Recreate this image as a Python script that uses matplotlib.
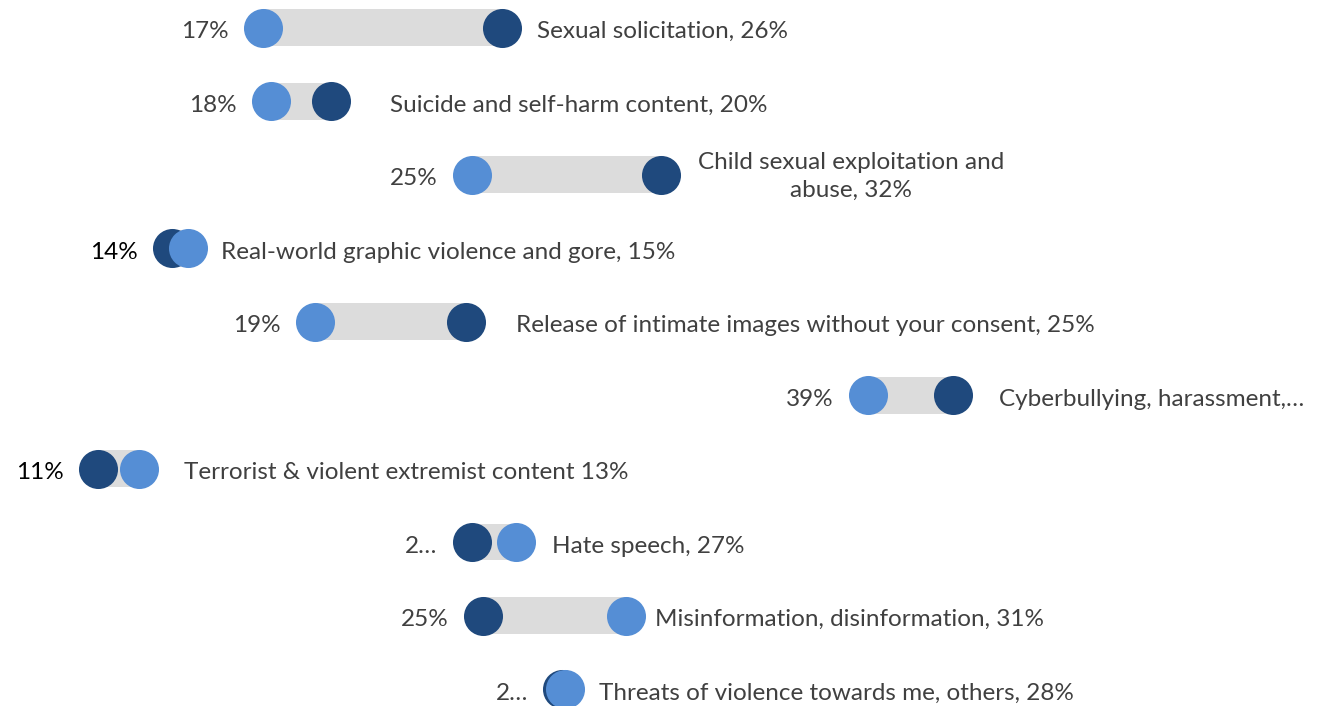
import matplotlib
matplotlib.use("Agg")
import matplotlib.pyplot as plt

# harm categories, top to bottom
categories = [
    "Sexual solicitation",
    "Suicide and self-harm content",
    "Child sexual exploitation and abuse",
    "Real-world graphic violence and gore",
    "Release of intimate images without your consent",
    "Cyberbullying, harassment, abuse",
    "Terrorist & violent extremist content",
    "Hate speech",
    "Misinformation, disinformation",
    "Threats of violence towards me, others",
]
share_a = [17.4, 17.7, 25.0, 14.7, 19.3, 39.4, 12.9, 26.6, 30.6, 28.4]   # light dots
share_b = [26.1, 19.9, 31.9, 14.1, 24.8, 42.5, 11.4, 25.0, 25.4, 28.3]   # dark dots

# label text on the right ({} gets the larger value)
right_fmt = [
    "Sexual solicitation, {}",
    "Suicide and self-harm content, {}",
    "Child sexual exploitation and\nabuse, {}",
    "Real-world graphic violence and gore, {}",
    "Release of intimate images without your consent, {}",
    "Cyberbullying, harassment,…",
    "Terrorist & violent extremist content {}",
    "Hate speech, {}",
    "Misinformation, disinformation, {}",
    "Threats of violence towards me, others, {}",
]
# labels that got clipped in the chart
left_override = {7: "2…", 9: "2…"}
left_black = {3, 6}

# layout (pixels)
right_off = [35, 59, 190, 33, 50, 46, 45, 36, 29, 34]

LIGHT = "#558ed5"
DARK = "#1f497d"
BAR = "#dcdcdc"
TXT = "#404040"

plt.rcParams["font.family"] = ["Lato", "DejaVu Sans"]

fig = plt.figure(figsize=(13.37, 7.06), dpi=100)
ax = fig.add_axes([0, 0, 1, 1])
ax.set_xlim(7.85, 7.85 + 1337 / 27.5)
ax.set_ylim(9.23, -0.377)
ax.axis("off")

ys = list(range(len(categories)))
lo = [min(a, b) for a, b in zip(share_a, share_b)]
hi = [max(a, b) for a, b in zip(share_a, share_b)]

ax.barh(ys, [h - l for l, h in zip(lo, hi)], left=lo, height=0.5,
        color=BAR, zorder=1)
ax.scatter(share_b, ys, s=790, color=DARK, linewidths=0, zorder=2)
ax.scatter(share_a, ys, s=790, color=LIGHT, linewidths=0, zorder=3)

fs = 17.5
for i in ys:
    txt = left_override.get(i, f"{lo[i]:.0f}%")
    ax.annotate(txt, (lo[i], i), xytext=(-34, -10.5), textcoords="offset pixels",
                ha="right", va="baseline", fontsize=fs,
                color="black" if i in left_black else TXT)
    label = right_fmt[i].format(f"{hi[i]:.0f}%")
    if "\n" in label:
        ax.annotate(label, (hi[i], i), xytext=(right_off[i], -2),
                    textcoords="offset pixels", ha="center", va="center",
                    multialignment="center", linespacing=1.38,
                    fontsize=fs, color=TXT)
    else:
        ax.annotate(label, (hi[i], i), xytext=(right_off[i], -10.5),
                    textcoords="offset pixels", ha="left", va="baseline",
                    fontsize=fs, color=TXT)

fig.savefig("out.png", dpi=100)
